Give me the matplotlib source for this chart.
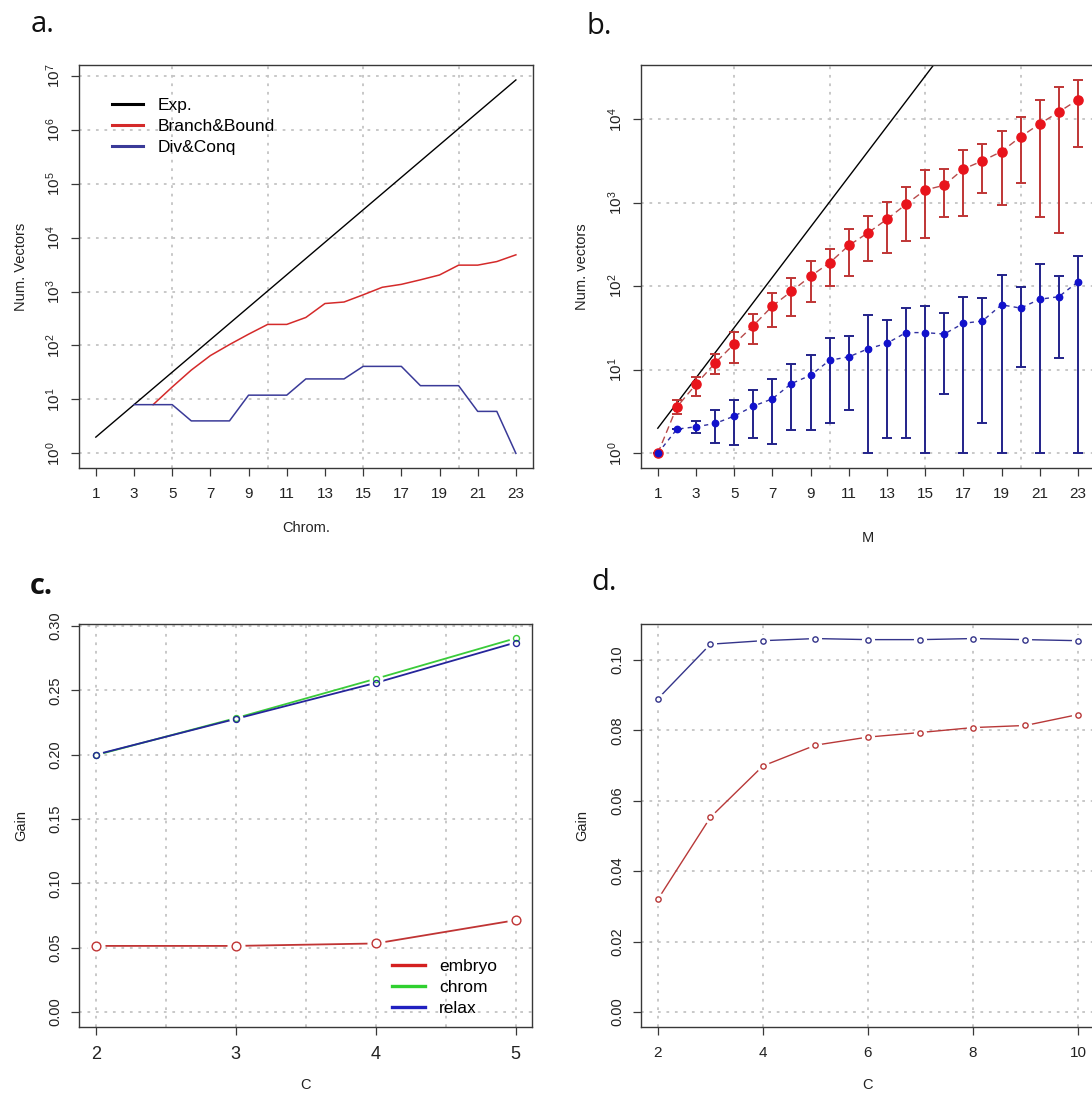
import matplotlib
matplotlib.use("Agg")
import matplotlib.pyplot as plt
from matplotlib.ticker import FixedLocator, NullLocator, LogFormatterSciNotation, FormatStrFormatter
import numpy as np

# ---------------- data ----------------
# panel a
chrom = list(range(1, 24))
exp_vectors = [2, 4, 8, 16, 32, 64, 128, 256, 512, 1024, 2048, 4096, 8192, 16384,
               32768, 65536, 131072, 262144, 524288, 1048576, 2097152, 4194304, 8388608]
bb_chrom = list(range(4, 24))
bb_vectors = [8, 17, 35, 65, 104, 162, 246, 246, 331, 600, 640, 870, 1200, 1360,
              1650, 2030, 3090, 3090, 3600, 4800]
dc_chrom = list(range(3, 24))
dc_vectors = [8, 8, 8, 4, 4, 4, 12, 12, 12, 24, 24, 24, 41, 41, 41, 18, 18, 18, 6, 6, 1]

# panel b
m_vals = list(range(1, 24))
bb_mean = [1, 3.6, 6.7, 12.1, 20.4, 33.8, 58, 87, 132, 191, 308, 435, 635, 958, 1420,
           1620, 2530, 3170, 4100, 6150, 8800, 12200, 17100]
bb_upper = [1, 4.3, 8.2, 15.6, 28.4, 47, 84, 126, 203, 281, 479, 690, 1030, 1550, 2450,
            2520, 4240, 5030, 7230, 10600, 17100, 24600, 29500]
bb_lower = [1, 3.0, 4.8, 8.9, 12.1, 20.2, 32.5, 43.6, 64, 100, 132, 201, 250, 346, 381,
            680, 703, 1290, 930, 1740, 680, 430, 4660]
dc_mean = [1, 1.95, 2.08, 2.28, 2.79, 3.67, 4.5, 6.85, 8.6, 13.0, 14.3, 17.8, 20.8, 27.9,
           27.9, 26.8, 36, 38.4, 60, 54.8, 70, 75, 113]
dc_upper = [1, 1.95, 2.46, 3.26, 4.37, 5.8, 7.7, 11.7, 15.1, 24, 25.4, 44.9, 39.4, 54.4,
            58, 47.8, 75, 72.3, 138, 97, 184, 132, 229]
dc_lower = [1, 1.95, 1.73, 1.34, 1.25, 1.54, 1.29, 1.92, 1.9, 2.32, 3.29, 1.0, 1.51, 1.51,
            1.0, 5.2, 1.0, 2.3, 1.0, 10.8, 1.0, 13.9, 1.0]

# panel c
c_vals_c = [2, 3, 4, 5]
gain_embryo = [0.0513, 0.0513, 0.0532, 0.0713]
gain_chrom = [0.1996, 0.2284, 0.2590, 0.2905]
gain_relax = [0.2000, 0.2278, 0.2558, 0.2872]

# panel d
c_vals_d = [2, 3, 4, 5, 6, 7, 8, 9, 10]
gain_d_blue = [0.0890, 0.1045, 0.1055, 0.1061, 0.1058, 0.1058, 0.1061, 0.1058, 0.1055]
gain_d_red = [0.0320, 0.0553, 0.0699, 0.0758, 0.0781, 0.0794, 0.0808, 0.0814, 0.0845]

# ---------------- style ----------------
plt.rcParams['font.family'] = ['Liberation Sans', 'DejaVu Sans']
plt.rcParams['mathtext.fontset'] = 'custom'
plt.rcParams['mathtext.rm'] = 'Liberation Sans'
plt.rcParams['mathtext.it'] = 'Liberation Sans:italic'
plt.rcParams['mathtext.bf'] = 'Liberation Sans:bold'

W, H = 1092, 1093
fig = plt.figure(figsize=(W / 100, H / 100), dpi=100)

def axes_px(left, top, right, bottom):
    return fig.add_axes([left / W, 1 - bottom / H, (right - left) / W, (bottom - top) / H])

GRID_KW = dict(color='#c4c4c4', linestyle=(0, (1.5, 3.2)), linewidth=1.3, zorder=0)
SPINE_COL = '#383838'

def style_axes(ax, xtick_size=11, ytick_size=11):
    for s in ax.spines.values():
        s.set_color(SPINE_COL)
        s.set_linewidth(1.0)
    ax.tick_params(axis='both', direction='out', length=5.8, width=0.9, color=SPINE_COL,
                   labelcolor='#222222')
    ax.tick_params(axis='x', labelsize=xtick_size, pad=8.0)
    ax.tick_params(axis='y', labelsize=ytick_size, pad=6.0, labelrotation=90)
    for lab in ax.get_yticklabels():
        lab.set_va('center')
    ax.xaxis.set_minor_locator(NullLocator())
    ax.yaxis.set_minor_locator(NullLocator())

def set_labels(ax, xl, yl, xy, yx):
    ax.set_xlabel(xl, fontsize=10.5, color='#222222')
    ax.set_ylabel(yl, fontsize=10.5, color='#222222')
    ax.xaxis.set_label_coords(0.5, xy)
    ax.xaxis.label.set_va('center')
    ax.yaxis.set_label_coords(yx, 0.5)
    ax.yaxis.label.set_va('center')

def r_lim(lo, hi):
    d = (hi - lo) * 0.04
    return lo - d, hi + d

def r_loglim(lo, hi):
    a, b = np.log10(lo), np.log10(hi)
    d = (b - a) * 0.04
    return 10 ** (a - d), 10 ** (b + d)

# ---------------- panel a ----------------
axa = axes_px(79, 65, 532.7, 468.3)
axa.set_yscale('log')
axa.set_xlim(*r_lim(1, 23))
axa.set_ylim(*r_loglim(1, max(exp_vectors)))
for gx in [5, 10, 15, 20]:
    axa.axvline(gx, **GRID_KW)
for e in range(0, 8):
    axa.axhline(10 ** e, **GRID_KW)
axa.plot(chrom, exp_vectors, color='black', lw=1.0, label='Exp.')
axa.plot(bb_chrom, bb_vectors, color='#d42a2a', lw=1.1, label='Branch&Bound')
axa.plot(dc_chrom, dc_vectors, color='#3a3a98', lw=1.1, label='Div&Conq')
axa.xaxis.set_major_locator(FixedLocator(list(range(1, 24, 2))))
axa.yaxis.set_major_locator(FixedLocator([10 ** e for e in range(0, 8)]))
axa.yaxis.set_major_formatter(LogFormatterSciNotation())
style_axes(axa)
set_labels(axa, 'Chrom.', 'Num. Vectors', -0.148, -0.128)
lega = axa.legend(loc='upper left', bbox_to_anchor=(112 / W, 1 - 98 / H), bbox_transform=fig.transFigure,
                  frameon=False, fontsize=12.5, handlelength=1.8, handletextpad=0.85, labelspacing=0.33,
                  borderpad=0, borderaxespad=0)
for ln in lega.get_lines():
    ln.set_linewidth(2.2)

# ---------------- panel b ----------------
axb = axes_px(641, 65, 641 + 453.7, 468.3)
axb.set_yscale('log')
axb.set_xlim(*r_lim(1, 23))
axb.set_ylim(*r_loglim(1, 29500 * 1.0))
for gx in [5, 10, 15, 20]:
    axb.axvline(gx, **GRID_KW)
for e in range(0, 5):
    axb.axhline(10 ** e, **GRID_KW)
axb.plot(m_vals, exp_vectors, color='black', lw=1.0, zorder=2)
bb_m = np.array(bb_mean)
axb.errorbar(m_vals, bb_mean,
             yerr=[bb_m - np.array(bb_lower), np.array(bb_upper) - bb_m],
             fmt='none', ecolor='#bf3535', elinewidth=1.4, capsize=3.4, capthick=1.4, zorder=3)
axb.plot(m_vals, bb_mean, color='#b84a4a', lw=1.0, linestyle=(0, (5, 3)), zorder=3)
axb.plot(m_vals, bb_mean, linestyle='none', marker='o', color='#e8141c', markersize=6.6, zorder=4)
dc_m = np.array(dc_mean)
axb.errorbar(m_vals, dc_mean,
             yerr=[dc_m - np.array(dc_lower), np.array(dc_upper) - dc_m],
             fmt='none', ecolor='#23238a', elinewidth=1.4, capsize=3.4, capthick=1.4, zorder=3)
axb.plot(m_vals, dc_mean, color='#3030a0', lw=1.0, linestyle=(0, (3, 3)), zorder=3)
axb.plot(m_vals, dc_mean, linestyle='none', marker='o', color='#1212cc', markersize=4.6, zorder=4)
axb.xaxis.set_major_locator(FixedLocator(list(range(1, 24, 2))))
axb.yaxis.set_major_locator(FixedLocator([10 ** e for e in range(0, 5)]))
axb.yaxis.set_major_formatter(LogFormatterSciNotation())
style_axes(axb)
set_labels(axb, 'M', 'Num. vectors', -0.173, -0.129)

# ---------------- panel c ----------------
axc = axes_px(79, 624, 532.4, 1026.8)
axc.set_xlim(*r_lim(2, 5))
axc.set_ylim(*r_lim(0, 0.29))
for gx in [2, 2.5, 3, 3.5, 4, 4.5, 5]:
    axc.axvline(gx, **GRID_KW)
for gy in [0, 0.05, 0.10, 0.15, 0.20, 0.25, 0.30]:
    axc.axhline(gy, **GRID_KW)
series_c = [(gain_embryo, '#c03434', 6.3, 12), (gain_chrom, '#3acb3a', 4.3, 9),
            (gain_relax, '#25259a', 4.3, 9)]
for ys, col, ms, halo in series_c:
    axc.plot(c_vals_c, ys, color=col, lw=1.3, zorder=2)
for ys, col, ms, halo in series_c:
    axc.plot(c_vals_c, ys, linestyle='none', marker='o', markersize=halo,
             markerfacecolor='white', markeredgecolor='white', zorder=3)
for ys, col, ms, halo in series_c:
    axc.plot(c_vals_c, ys, linestyle='none', marker='o', markersize=ms,
             markerfacecolor='none', markeredgecolor=col, markeredgewidth=1.0, zorder=4)
axc.plot([], [], color='#d42020', lw=2.4, label='embryo')
axc.plot([], [], color='#2fd02f', lw=2.4, label='chrom')
axc.plot([], [], color='#2020c0', lw=2.4, label='relax')
axc.xaxis.set_major_locator(FixedLocator([2, 3, 4, 5]))
axc.yaxis.set_major_locator(FixedLocator([0, 0.05, 0.10, 0.15, 0.20, 0.25, 0.30]))
axc.yaxis.set_major_formatter(FormatStrFormatter('%.2f'))
style_axes(axc, xtick_size=13, ytick_size=10.5)
set_labels(axc, 'C', 'Gain', -0.145, -0.128)
axc.legend(loc='upper left', bbox_to_anchor=(392 / W, 1 - 959 / H), bbox_transform=fig.transFigure,
           frameon=False, fontsize=12.5, handlelength=1.9, handletextpad=0.8, labelspacing=0.33,
           borderpad=0, borderaxespad=0)

# ---------------- panel d ----------------
axd = axes_px(641.1, 624, 641.1 + 453.7, 1026.8)
axd.set_xlim(*r_lim(2, 10))
axd.set_ylim(*r_lim(0, 0.106))
for gx in [2, 4, 6, 8, 10]:
    axd.axvline(gx, **GRID_KW)
for gy in [0, 0.02, 0.04, 0.06, 0.08, 0.10]:
    axd.axhline(gy, **GRID_KW)
series_d = [(gain_d_blue, '#34348a'), (gain_d_red, '#b83838')]
for ys, col in series_d:
    axd.plot(c_vals_d, ys, color=col, lw=1.0, zorder=2)
for ys, col in series_d:
    axd.plot(c_vals_d, ys, linestyle='none', marker='o', markersize=8.5,
             markerfacecolor='white', markeredgecolor='white', zorder=3)
for ys, col in series_d:
    axd.plot(c_vals_d, ys, linestyle='none', marker='o', markersize=3.8,
             markerfacecolor='none', markeredgecolor=col, markeredgewidth=1.0, zorder=4)
axd.xaxis.set_major_locator(FixedLocator([2, 4, 6, 8, 10]))
axd.yaxis.set_major_locator(FixedLocator([0, 0.02, 0.04, 0.06, 0.08, 0.10]))
axd.yaxis.set_major_formatter(FormatStrFormatter('%.2f'))
style_axes(axd, xtick_size=11, ytick_size=10.5)
set_labels(axd, 'C', 'Gain', -0.145, -0.129)

# ---------------- panel letters ----------------
def letter(x, y, s, bold=False):
    fig.text(x / W, 1 - y / H, s, fontsize=21, family='Open Sans',
             fontweight='bold' if bold else 'normal', ha='left', va='baseline', color='#111111')

letter(30.7, 31.5, 'a.')
letter(586.7, 34, 'b.')
letter(29.3, 594, 'c.', bold=True)
letter(591.7, 590.5, 'd.')

fig.savefig('out.png', dpi=100)
